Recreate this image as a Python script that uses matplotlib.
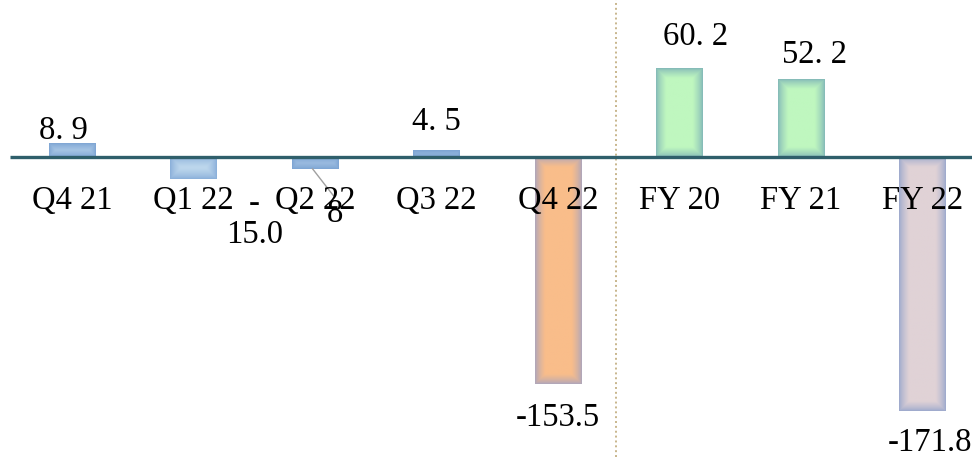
import numpy as np
import matplotlib
matplotlib.use("Agg")
import matplotlib.pyplot as plt
from matplotlib.colors import to_rgb

categories = ["Q4 21", "Q1 22", "Q2 22", "Q3 22", "Q4 22", "FY 20", "FY 21", "FY 22"]
values = [8.9, -15.0, -8.0, 4.5, -153.5, 60.2, 52.2, -171.8]
value_labels = ["8. 9", "-\n15.0", "8", "4. 5", "-153.5", "60. 2", "52. 2", "-171.8"]

# (center color, edge color) per bar
center_colors = ["#b4d0ea", "#bcd6ec", "#a9c7e6", "#a4c3e4", "#f9bd8a",
                 "#bff7bf", "#bff7bf", "#e0d2d6"]
edge_colors = ["#7aa2d2", "#86acd8", "#7aa2d2", "#7aa2d2", "#a9a4bf",
               "#7fb4b8", "#7fb4b8", "#98a6cc"]

# label layout: (x offset, y position in data units)
label_layout = [(-0.07, 12.2), (0.0, -58.0), (0.165, -44.0), (0.0, 18.3),
                (0.0, -182.0), (0.13, 75.8), (0.11, 63.6), (0.06, -199.0)]

plt.rcParams["font.family"] = ["Liberation Serif", "DejaVu Serif"]

W, H = 972, 457
fig = plt.figure(figsize=(W / 100, H / 100), dpi=100)
ax = fig.add_axes([0, 0, 1, 1])
px_per_cat = 121.5
px_per_unit = 1.478
x0 = 72.0
base = 157.0
xlim = (-x0 / px_per_cat, (W - x0) / px_per_cat)
ylim = (-(H - base) / px_per_unit, base / px_per_unit)
ax.set_xlim(*xlim)
ax.set_ylim(*ylim)
ax.axis("off")

x = np.arange(len(categories))
bars = ax.bar(x, values, width=0.38, facecolor="none", edgecolor="none", zorder=2)

fig.canvas.draw()
for rect, cc, ec in zip(bars, center_colors, edge_colors):
    bx, by = rect.get_x(), rect.get_y()
    bw, bh = rect.get_width(), rect.get_height()
    p0 = ax.transData.transform((bx, by))
    p1 = ax.transData.transform((bx + bw, by + bh))
    wpx = max(int(abs(p1[0] - p0[0])), 2)
    hpx = max(int(abs(p1[1] - p0[1])), 2)
    xs = np.arange(wpx) + 0.5
    ys = np.arange(hpx) + 0.5
    dx = np.minimum(xs, wpx - xs)[None, :]
    dy = np.minimum(ys, hpx - ys)[:, None]
    d = np.minimum(dx, dy)
    t = np.clip(d / 10.0, 0, 1) ** 0.7
    c1 = np.array(to_rgb(cc))
    c0 = np.array(to_rgb(ec))
    img = c0[None, None, :] * (1 - t[..., None]) + c1[None, None, :] * t[..., None]
    ax.imshow(img, extent=[bx, bx + bw, by, by + bh], aspect="auto",
              interpolation="bilinear", zorder=2, origin="lower")

ax.set_xlim(*xlim)
ax.set_ylim(*ylim)

# baseline axis
ax.plot([-0.51, 8.0], [0, 0], color="#2f5f6b", lw=2.4, zorder=3, solid_capstyle="butt")
# divider
ax.axvline(4.477, color="#c8b68c", lw=1.4, ls=(0, (1, 1.5)), zorder=1)

fs = 23.5
for i, cat in enumerate(categories):
    ax.text(i, -35.2, cat, ha="center", va="baseline", fontsize=fs, color="black", zorder=4)

for i, (lab, (dxo, yy)) in enumerate(zip(value_labels, label_layout)):
    if i == 1:
        ax.text(i + 0.5, yy, lab, ha="center", va="baseline", fontsize=fs,
                linespacing=1.0, zorder=4)
    else:
        ax.text(i + dxo, yy, lab, ha="center", va="baseline", fontsize=fs, zorder=4)

# leader line for Q2 22 label
ax.plot([1.98, 2.15], [values[2], -26.0], color="#a0a0a0", lw=1.0, zorder=3)

fig.savefig("out.png", dpi=100)
